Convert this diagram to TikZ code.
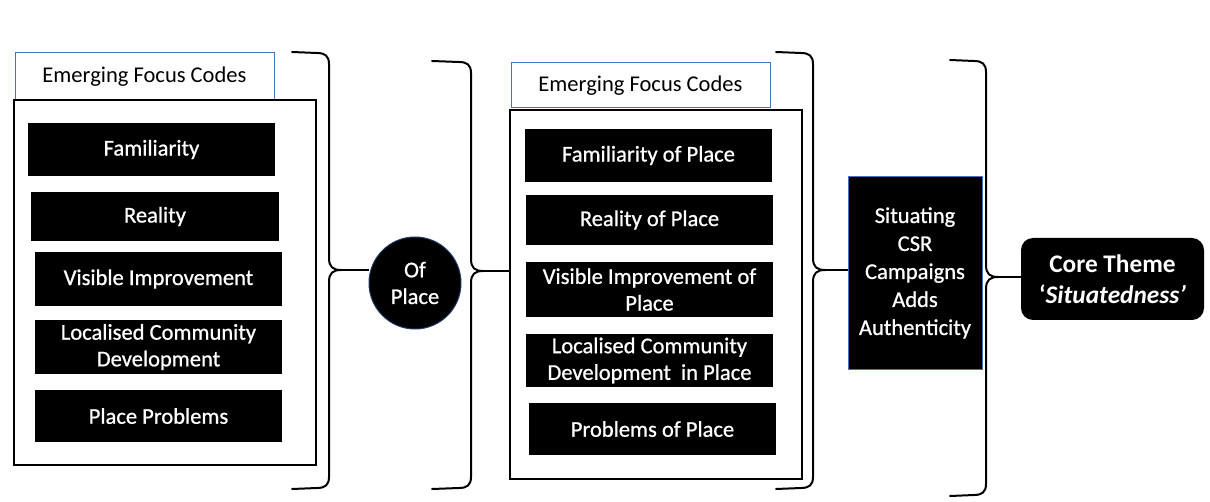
\documentclass[tikz,border=0pt]{standalone}
\usepackage{fontspec}
\setmainfont{Carlito}
\newfontfamily\whitefont{Carlito}[FakeBold=0.8]
\definecolor{ofblue}{RGB}{68,114,196}
\definecolor{darkblue}{RGB}{31,56,100}
\newcommand\mybrace[6]{%
  \draw[brace] (#1,{#3-1}) -- ({#2-12},#3) .. controls ({#2-4},#3) and (#2,{#3+3}) .. (#2,{#3+11})
    -- (#2,{#5-12}) .. controls (#2,{#5-3}) and ({#2+4},#5) .. ({#2+12},#5)
    .. controls ({#2+4},#5) and (#2,{#5+3}) .. (#2,{#5+12})
    -- (#2,{#4-11}) .. controls (#2,{#4-3}) and ({#2-4},#4) .. ({#2-12},#4) -- (#1,{#4+1});
  \coordinate (#6) at ({#2+12},#5);}
\begin{document}
\begin{tikzpicture}[x=0.75pt,y=-0.75pt,
  every node/.style={font=\fontsize{16.9pt}{20pt}\selectfont, align=center, inner sep=0pt},
  sz/.style 2 args={minimum width=#1*0.75pt, minimum height=#2*0.75pt},
  code/.style={fill=black, text=white, font=\whitefont\fontsize{16.9pt}{20pt}\selectfont},
  header/.style={draw=ofblue, line width=0.75pt, fill=white},
  panel/.style={draw=black, line width=1.5pt},
  brace/.style={line width=1.5pt, line cap=round, line join=round},
  link/.style={line width=1.5pt}]
\useasboundingbox (0,0) rectangle (1210,502);

% left panel
\node[header, sz={259}{47}] (h1) at (144.5,76.5) {Emerging Focus Codes};
\node[panel, sz={302}{365}] (p1) at (165,282.5) {};
\node[code, sz={247}{53}] (a1) at (151.5,149.5) {Familiarity};
\node[code, sz={248}{49}] (a2) at (155,216.5) {Reality};
\node[code, sz={247}{54}] (a3) at (158.5,279) {Visible Improvement};
\node[code, sz={247}{54}] (a4) at (158.5,347) {Localised Community\\Development};
\node[code, sz={247}{52}] (a5) at (158.5,416) {Place Problems};

% of place
\node[circle, fill=black, text=white, draw=darkblue, line width=0.75pt, minimum size=92*0.75pt,
      font=\whitefont\fontsize{16.9pt}{20pt}\selectfont] (ofp) at (415,283) {Of\\Place};

% right panel
\node[header, sz={259}{45}] (h2) at (640.5,85.5) {Emerging Focus Codes};
\node[panel, sz={292}{369}] (p2) at (656,294.5) {};
\node[code, sz={247}{53}] (b1) at (648.5,155.5) {Familiarity of Place};
\node[code, sz={247}{50}] (b2) at (649.5,220) {Reality of Place};
\node[code, sz={247}{55}] (b3) at (649.5,289.5) {Visible Improvement of\\Place};
\node[code, sz={247}{53}] (b4) at (649.5,360.5) {Localised Community\\Development\ \ in Place};
\node[code, sz={247}{52}] (b5) at (652.5,429) {Problems of Place};

% situating
\node[code, draw=ofblue, line width=0.75pt, sz={134}{192},
      font=\whitefont\fontsize{16.9pt}{21pt}\selectfont] (sit) at (915,273)
      {Situating\\CSR\\Campaigns\\Adds\\Authenticity};

% core theme
\node[fill=black, text=white, rounded corners=9pt, sz={183}{82},
      font=\bfseries\fontsize{19pt}{23pt}\selectfont] (core) at (1112.5,279)
      {Core Theme\\{\upshape ‘}\textit{Situatedness’}};

% braces
\mybrace{292}{329}{53}{488}{270}{t1}
\mybrace{432}{471}{62}{488}{271}{t2}
\mybrace{776}{813}{53}{488}{270}{t3}
\mybrace{950}{986}{61}{495}{277}{t4}

% connectors
\draw[link] (t1) -- (t1 -| ofp.west);
\draw[link] (t2) -- (t2 -| p2.west);
\draw[link] (t3) -- (t3 -| sit.west);
\draw[link] (t4) -- (t4 -| core.west);
\end{tikzpicture}
\end{document}
